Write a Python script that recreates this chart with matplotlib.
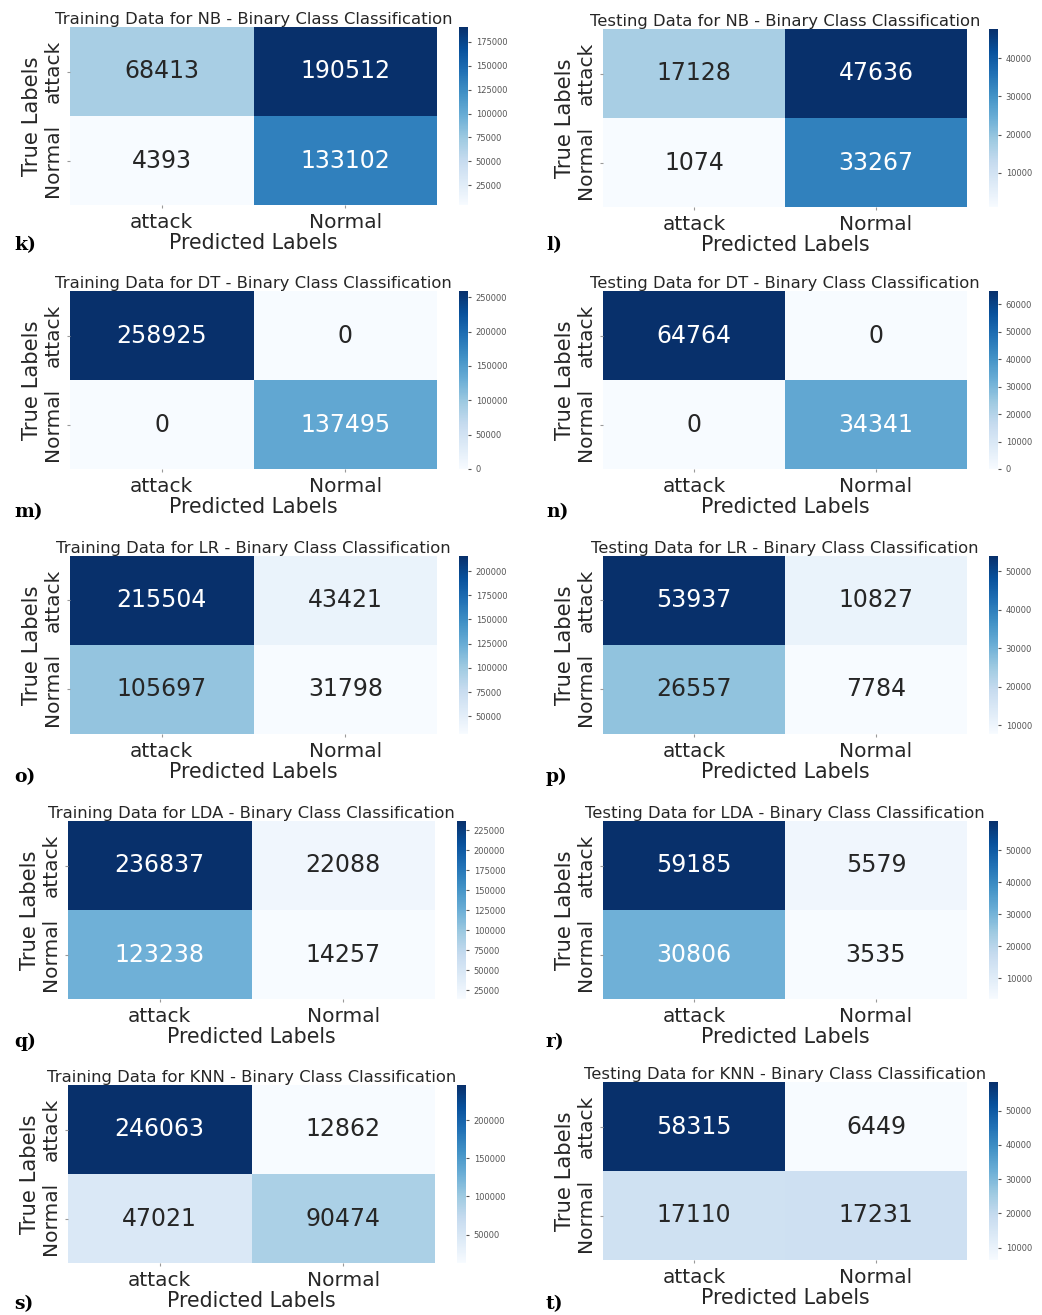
import matplotlib
matplotlib.use('Agg')
import matplotlib.pyplot as plt
import numpy as np
import seaborn as sns

# confusion matrices (rows = true, cols = predicted)
CLASSES = ['attack', 'Normal']

nb_train = [[68413, 190512], [4393, 133102]]
nb_test = [[17128, 47636], [1074, 33267]]
dt_train = [[258925, 0], [0, 137495]]
dt_test = [[64764, 0], [0, 34341]]
lr_train = [[215504, 43421], [105697, 31798]]
lr_test = [[53937, 10827], [26557, 7784]]
lda_train = [[236837, 22088], [123238, 14257]]
lda_test = [[59185, 5579], [30806, 3535]]
knn_train = [[246063, 12862], [47021, 90474]]
knn_test = [[58315, 6449], [17110, 17231]]

MODELS = ['NB', 'DT', 'LR', 'LDA', 'KNN']
TRAIN = [nb_train, dt_train, lr_train, lda_train, knn_train]
TEST = [nb_test, dt_test, lr_test, lda_test, knn_test]
PANEL_LETTERS = [('k)', 'l)'), ('m)', 'n)'), ('o)', 'p)'), ('q)', 'r)'), ('s)', 't)')]

W, H = 1042, 1315
fig = plt.figure(figsize=(W / 100, H / 100), dpi=100)

# pixel boxes: heat left, heat right, cbar left per column; heat tops per row
left_cols = [(70, 437, 459), (70, 437, 459), (70, 437, 459), (68, 435, 457), (68, 435, 457)]
right_cols = [(603, 967, 989)] * 5
tops_left = [27, 291, 556, 821, 1085]
tops_right = [29, 291, 556, 821, 1082]
heat_h = 178
label_y = [245, 512, 777, 1042, 1304]
TXT = '#262626'


def px_axes(x0, x1, top, h):
    return fig.add_axes([x0 / W, 1 - (top + h) / H, (x1 - x0) / W, h / H])


def draw_cm(cm, title, cols, top, letter, letter_x, letter_y):
    x0, x1, cx = cols
    ax = px_axes(x0, x1, top, heat_h)
    cax = px_axes(cx, cx + 9, top, heat_h)
    sns.heatmap(np.array(cm), annot=True, fmt='d', cmap='Blues', ax=ax, cbar_ax=cax,
                xticklabels=CLASSES, yticklabels=CLASSES,
                annot_kws={'fontsize': 17})
    ax.set_title(title, fontsize=11.8, pad=2, color=TXT)
    ax.set_xlabel('Predicted Labels', fontsize=14.8, labelpad=1, color=TXT)
    ax.set_ylabel('True Labels', fontsize=15.2, labelpad=1, color=TXT)
    ax.tick_params(axis='both', labelsize=14.5, length=2, colors='#999999', labelcolor=TXT)
    plt.setp(ax.get_yticklabels(), rotation=90, va='center')
    plt.setp(ax.get_xticklabels(), rotation=0)
    cax.tick_params(labelsize=6, length=2, colors='#555555')
    fig.text(letter_x / W, 1 - letter_y / H, letter, fontsize=13.5, fontweight='bold',
             family='DejaVu Serif', va='center', ha='left')


for i, m in enumerate(MODELS):
    draw_cm(TRAIN[i], f'Training Data for {m} - Binary Class Classification',
            left_cols[i], tops_left[i], PANEL_LETTERS[i][0], 14, label_y[i])
    draw_cm(TEST[i], f'Testing Data for {m} - Binary Class Classification',
            right_cols[i], tops_right[i], PANEL_LETTERS[i][1], 546, label_y[i])

fig.savefig('out.png', dpi=100)
